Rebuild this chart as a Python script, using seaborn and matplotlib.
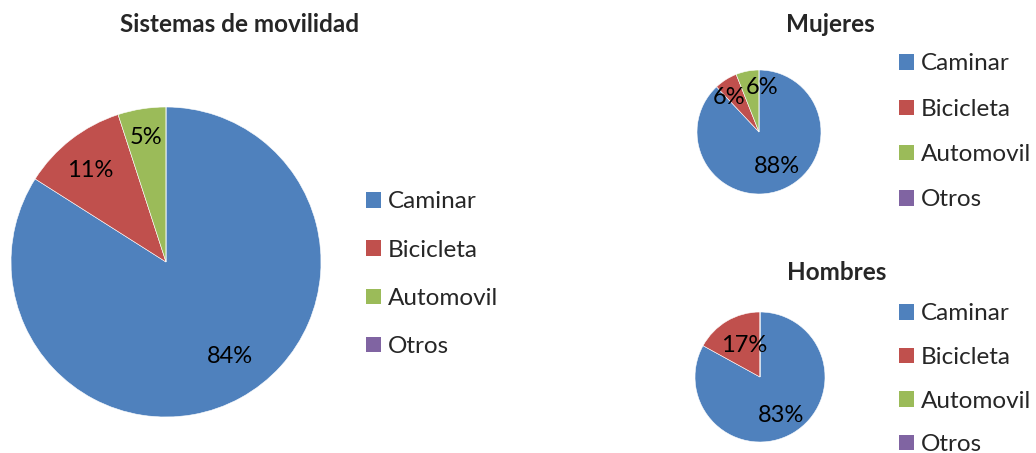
import matplotlib
matplotlib.use("Agg")
import matplotlib.pyplot as plt
import seaborn as sns
from matplotlib.patches import Patch

sns.set_theme(style="white")
plt.rcParams['font.family'] = ['Lato', 'DejaVu Sans']

categories = ["Caminar", "Bicicleta", "Automovil", "Otros"]
total_values = [84, 11, 5, 0]
mujeres_values = [88, 6, 6, 0]
hombres_values = [83, 17, 0, 0]
titles = ["Sistemas de movilidad", "Mujeres", "Hombres"]

colors = sns.color_palette(["#4F81BD", "#C0504D", "#9BBB59", "#8064A2"])

W, H = 1036, 453
fig = plt.figure(figsize=(W / 100, H / 100), dpi=100)
fig.patch.set_facecolor("white")

LABEL_FS = 17
TITLE_FS = 17.5
LEG_FS = 17.5


def px_axes(cx, cy, r):
    return fig.add_axes([(cx - r) / W, (H - cy - r) / H, 2 * r / W, 2 * r / H])


def draw(ax, vals, label_pos):
    ax.pie(vals, colors=colors, startangle=90, counterclock=False,
           wedgeprops=dict(edgecolor="white", linewidth=0.4))
    for v, pos in zip(vals, label_pos):
        if v == 0 or pos is None:
            continue
        ax.text(pos[0], pos[1], f"{v}%", ha="center", va="center",
                fontsize=LABEL_FS, color="black")
    ax.set_xlim(-1, 1)
    ax.set_ylim(-1, 1)
    ax.set_aspect("equal")
    ax.axis("off")


ax1 = px_axes(166, 262, 155)
draw(ax1, total_values, [(0.41, -0.61), (-0.49, 0.59), (-0.13, 0.80), None])
ax2 = px_axes(759, 132, 62)
draw(ax2, mujeres_values, [(0.29, -0.56), (-0.48, 0.56), (0.05, 0.71), None])
ax3 = px_axes(760, 377, 65)
draw(ax3, hombres_values, [(0.32, -0.60), (-0.25, 0.48), None, None])

fig.text(240 / W, 1 - 25 / H, titles[0], ha="center", va="center", fontsize=TITLE_FS, fontweight="bold")
fig.text(830 / W, 1 - 25 / H, titles[1], ha="center", va="center", fontsize=TITLE_FS, fontweight="bold")
fig.text(837 / W, 1 - 272 / H, titles[2], ha="center", va="center", fontsize=TITLE_FS, fontweight="bold")

handles = [Patch(facecolor=c, edgecolor="none") for c in colors]


def legend(x, ytop, spacing):
    fig.legend(handles, categories, loc="upper left",
               bbox_to_anchor=(x / W, 1 - ytop / H), frameon=False,
               fontsize=LEG_FS, handlelength=0.6, handleheight=0.6,
               handletextpad=0.3, labelspacing=spacing, borderpad=0, borderaxespad=0)


legend(366, 191.5, 1.12)
legend(899, 53.5, 1.0)
legend(899, 303.5, 0.93)

fig.savefig("out.png", dpi=100, facecolor="white")
